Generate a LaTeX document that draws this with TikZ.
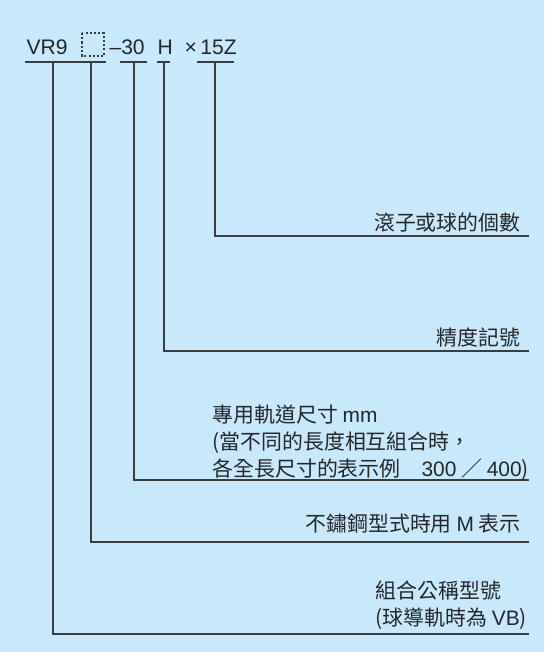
\documentclass[tikz,border=0pt]{standalone}
\usepackage{fontspec}
\setmainfont{Noto Sans CJK TC}
\newfontfamily\latinfont{Liberation Sans}
\definecolor{bgblue}{HTML}{C8E9FB}
\definecolor{leadgray}{HTML}{3C3C3C}
\definecolor{txtgray}{HTML}{262626}
\newcommand{\lat}[1]{{\latinfont #1}}

\begin{document}
\begin{tikzpicture}[x=0.02cm,y=-0.02cm,line width=0.6pt,
  lead/.style={draw=leadgray},
  code/.style={font=\latinfont\fontsize{12}{14}\selectfont,inner sep=0pt,anchor=base west,text=txtgray},
  desc/.style={font=\fontsize{11.9}{15.3}\selectfont,inner sep=0pt,text=txtgray}]
  \fill[bgblue] (0,0) rectangle (544,652);
  \useasboundingbox (0,0) rectangle (544,652);

  % model code
  \node[code] (vr) at (26,55) {VR9};
  \draw[leadgray,dash pattern=on 1.2pt off 1.2pt,line width=0.6pt] (82,33) rectangle (104,56);
  \node[code] (len) at (109,55) {–30};
  \node[code] (prec) at (157,55) {H};
  \node[code] (num) at (184,55) {×\,15Z};

  \coordinate (uA) at (25,62);  \coordinate (uB) at (106,62);
  \coordinate (uC) at (120,62); \coordinate (uD) at (147,62);
  \coordinate (uE) at (157,62); \coordinate (uF) at (170,62);
  \coordinate (uG) at (197,62); \coordinate (uH) at (234,62);
  \draw[lead] (uA)--(uB) (uC)--(uD) (uE)--(uF) (uG)--(uH);

  % ends of the leaders
  \coordinate (eNum) at (529,236);
  \coordinate (ePrec) at (529,351);
  \coordinate (eLen) at (529,480);
  \coordinate (eBox) at (529,542);
  \coordinate (eVR) at (529,634);

  \draw[lead] (215,62) |- (eNum);
  \draw[lead] (164,62) |- (ePrec);
  \draw[lead] (134,62) |- (eLen);
  \draw[lead] (91,62) |- (eBox);
  \draw[lead] (53,62) |- (eVR);

  \node[desc,anchor=base east] (dNum) at (521,230) {滾子或球的個數};
  \node[desc,anchor=base east] (dPrec) at (521,345) {精度記號};
  \node[desc,anchor=base west,align=left] (dLen) at (212,476)
    {專用軌道尺寸 \lat{mm}\\(當不同的長度相互組合時，\\各全長尺寸的表示例\quad \lat{300} ／ \lat{400})};
  \node[desc,anchor=base east] (dBox) at (521,531) {不鏽鋼型式時用 \lat{M} 表示};
  \node[desc,anchor=base west,align=left] (dVR) at (375,625)
    {組合公稱型號\\(球導軌時為 \lat{VB})};
\end{tikzpicture}
\end{document}
